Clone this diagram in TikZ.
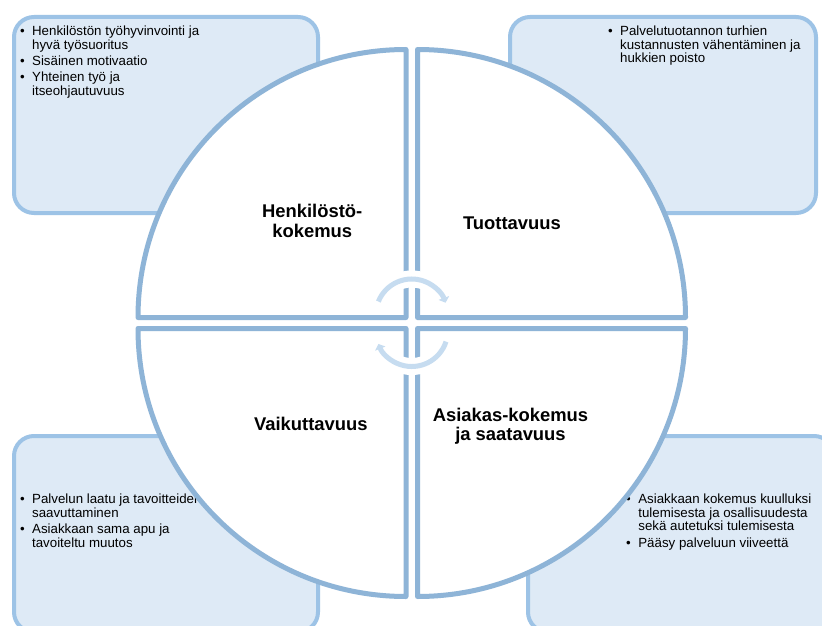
\documentclass[tikz,border=0pt]{standalone}
\usepackage{fontspec}
\setmainfont{Liberation Sans}
\usetikzlibrary{arrows.meta}
\definecolor{quadline}{RGB}{142,180,215}
\definecolor{boxline}{RGB}{157,195,230}
\definecolor{boxfill}{RGB}{222,234,246}
\definecolor{arrowcol}{RGB}{198,220,240}
\begin{document}
\begin{tikzpicture}[x=1pt,y=-1pt,
  infobox/.style={draw=boxline, fill=boxfill, line width=4pt, rounded corners=20pt,
    minimum width=304pt, minimum height=196pt, anchor=north west, inner sep=0pt},
  quad/.style={draw=quadline, fill=white, line width=5pt, line join=round},
  bullets/.style={font=\fontsize{13.3}{13.6}\selectfont, inner sep=0pt, anchor=base west},
  quadtitle/.style={font=\fontsize{18.4}{20.5}\selectfont\bfseries, inner sep=0pt, anchor=base},
  cyc/.style={draw=arrowcol, line width=5pt, -{Triangle[length=5pt,width=11pt]}},
  halo/.style={draw=white, line width=17pt}
]
\useasboundingbox (0,0) rectangle (822,626);
\clip (0,0) rectangle (822,626);
\fill[white] (0,0) rectangle (822,626);

% corner boxes
\node[infobox] (boxTL) at (12,15) {};
\node[infobox, minimum width=306pt] (boxTR) at (508,15) {};
\node[infobox] (boxBL) at (12,434) {};
\node[infobox, minimum width=306pt] (boxBR) at (526,434) {};

% bullet texts
\node[bullets] (txtTL) at (20,35.5) {\begin{tabular}[t]{@{}l@{\hspace{7.3pt}}l@{}}
•&Henkilöstön työhyvinvointi ja\\&hyvä työsuoritus\\[2.4pt]
•&Sisäinen motivaatio\\[2.4pt]
•&Yhteinen työ ja\\&itseohjautuvuus\end{tabular}};
\node[bullets] (txtTR) at (608,35.5) {\begin{tabular}[t]{@{}l@{\hspace{7.3pt}}l@{}}
•&Palvelutuotannon turhien\\&kustannusten vähentäminen ja\\&hukkien poisto\end{tabular}};
\node[bullets] (txtBL) at (20,503.5) {\begin{tabular}[t]{@{}l@{\hspace{7.3pt}}l@{}}
•&Palvelun laatu ja tavoitteiden\\&saavuttaminen\\[2.4pt]
•&Asiakkaan sama apu ja\\&tavoiteltu muutos\end{tabular}};
\node[bullets] (txtBR) at (626,503.5) {\begin{tabular}[t]{@{}l@{\hspace{7.5pt}}l@{}}
•&Asiakkaan kokemus kuulluksi\\&tulemisesta ja osallisuudesta\\&sekä autetuksi tulemisesta\\[2.4pt]
•&Pääsy palveluun viiveettä\end{tabular}};

% circle quadrants
\draw[quad] (406,317.5) -- ++(-268,0) arc[start angle=180, end angle=270, radius=268] -- cycle;
\draw[quad] (417.5,317.5) -- ++(0,-268) arc[start angle=270, end angle=360, radius=268] -- cycle;
\draw[quad] (417.5,328.5) -- ++(268,0) arc[start angle=0, end angle=90, radius=268] -- cycle;
\draw[quad] (406,328.5) -- ++(0,268) arc[start angle=90, end angle=180, radius=268] -- cycle;

% quadrant titles
\node[quadtitle] (tHen) at (312.2,217.3) {\begin{tabular}[t]{@{}c@{}}Henkilöstö-\\kokemus\end{tabular}};
\node[quadtitle] (tTuo) at (512,229) {Tuottavuus};
\node[quadtitle] (tVai) at (310.8,430) {Vaikuttavuus};
\node[quadtitle] (tAsi) at (510.5,421.5) {\begin{tabular}[t]{@{}c@{}}Asiakas-kokemus\\[-1.5pt]ja saatavuus\end{tabular}};

% centre cycle arrows
\coordinate (cTop) at (411.75,315);
\coordinate (cBot) at (411.75,330.5);
\draw[halo] ([shift={(-158:36)}]cTop) arc[start angle=-158, end angle=-20, radius=36];
\draw[halo] ([shift={(18:36)}]cBot) arc[start angle=18, end angle=158, radius=36];
\draw[cyc] ([shift={(-158:36)}]cTop) arc[start angle=-158, end angle=-20, radius=36];
\draw[cyc] ([shift={(18:36)}]cBot) arc[start angle=18, end angle=158, radius=36];
\end{tikzpicture}
\end{document}
